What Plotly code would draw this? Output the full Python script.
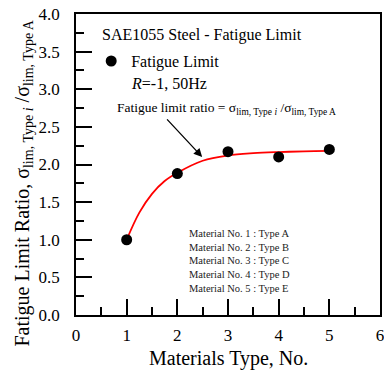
import plotly.graph_objects as go

# Data
material_no = [1, 2, 3, 4, 5]
fatigue_ratio = [1.00, 1.88, 2.17, 2.10, 2.20]

fit_x = [1, 1.25, 1.5, 1.75, 2, 2.5, 3, 3.5, 4, 4.5, 5]
fit_y = [1.00, 1.36, 1.61, 1.78, 1.89, 2.05, 2.12, 2.15, 2.165, 2.175, 2.18]

x_ticks = [0, 1, 2, 3, 4, 5, 6]
y_ticks = [0.0, 0.5, 1.0, 1.5, 2.0, 2.5, 3.0, 3.5, 4.0]

material_labels = ["Material No. 1 : Type A", "Material No. 2 : Type B",
                   "Material No. 3 : Type C", "Material No. 4 : Type D",
                   "Material No. 5 : Type E"]

FONT = "Liberation Serif, Times New Roman, serif"

fig = go.Figure()
fig.add_trace(go.Scatter(x=fit_x, y=fit_y, mode="lines", line=dict(color="red", width=1.8, shape="spline"),
                         showlegend=False, hoverinfo="skip"))
fig.add_trace(go.Scatter(x=material_no, y=fatigue_ratio, mode="markers", name="Fatigue Limit",
                         marker=dict(color="black", size=11)))

axis_common = dict(showline=True, linecolor="black", linewidth=1.6, mirror=True,
                   ticks="inside", ticklen=16, tickwidth=1.6, tickcolor="black",
                   showgrid=False, zeroline=False, automargin=False, ticklabeloverflow="allow",
                   tickfont=dict(family=FONT, size=17, color="black"))

fig.update_xaxes(range=[0, 6], tickvals=x_ticks, ticktext=[str(v) for v in x_ticks],
                 minor=dict(ticks="inside", ticklen=8, dtick=0.5, tickwidth=1.6, tickcolor="black", showgrid=False),
                 ticklabelstandoff=4, **axis_common)
fig.update_yaxes(range=[0, 4], tickvals=y_ticks, ticktext=[f"{v:.1f}" for v in y_ticks],
                 minor=dict(ticks="inside", ticklen=8, dtick=0.25, tickwidth=1.6, tickcolor="black", showgrid=False),
                 ticklabelstandoff=11, **axis_common)

anns = [
    dict(x=0.47, y=3.72, xref="x", yref="y", text="SAE1055 Steel - Fatigue Limit", showarrow=False,
         xanchor="left", yanchor="middle", font=dict(family=FONT, size=16, color="black")),
    dict(x=1.045, y=3.07, xref="x", yref="y", text="<i>R</i>=-1, 50Hz", showarrow=False,
         xanchor="left", yanchor="middle", font=dict(family=FONT, size=16, color="black")),
    dict(x=0.77, y=2.74, xref="x", yref="y",
         text="Fatigue limit ratio = σ<sub>lim, Type <i>i</i></sub> /σ<sub>lim, Type A</sub>",
         showarrow=False, xanchor="left", yanchor="middle", font=dict(family=FONT, size=13.5, color="black")),
    dict(x=2.49, y=2.10, ax=1.77, ay=2.62, xref="x", yref="y", axref="x", ayref="y", text="",
         showarrow=True, arrowhead=2, arrowsize=1.3, arrowwidth=1.3, arrowcolor="black"),
    dict(x=2.185, y=0.72, xref="x", yref="y", text="<br>".join(material_labels), showarrow=False,
         xanchor="left", yanchor="middle", align="left", font=dict(family=FONT, size=10.5, color="#222")),
    dict(x=0.5, y=-0.146, xref="paper", yref="paper", text="Materials Type, No.", showarrow=False,
         xanchor="center", yanchor="middle", font=dict(family=FONT, size=20, color="black")),
    dict(x=-0.174, y=0.437, xref="paper", yref="paper", textangle=-90,
         text="Fatigue Limit Ratio, σ<sub>lim, Type <i>i</i></sub> /σ<sub>lim, Type A</sub>",
         showarrow=False, xanchor="center", yanchor="middle", font=dict(family=FONT, size=20, color="black")),
]

fig.update_layout(
    width=384, height=372,
    margin=dict(l=76, r=4, t=14, b=57),
    plot_bgcolor="white", paper_bgcolor="white",
    annotations=anns,
    showlegend=True,
    legend=dict(x=0.05, y=0.90, xanchor="left", yanchor="top", bgcolor="rgba(0,0,0,0)",
                font=dict(family=FONT, size=16, color="black"), borderwidth=0),
)

fig.write_html("out.html", config={"displayModeBar": False},
               post_script="document.body.style.margin='0';")
